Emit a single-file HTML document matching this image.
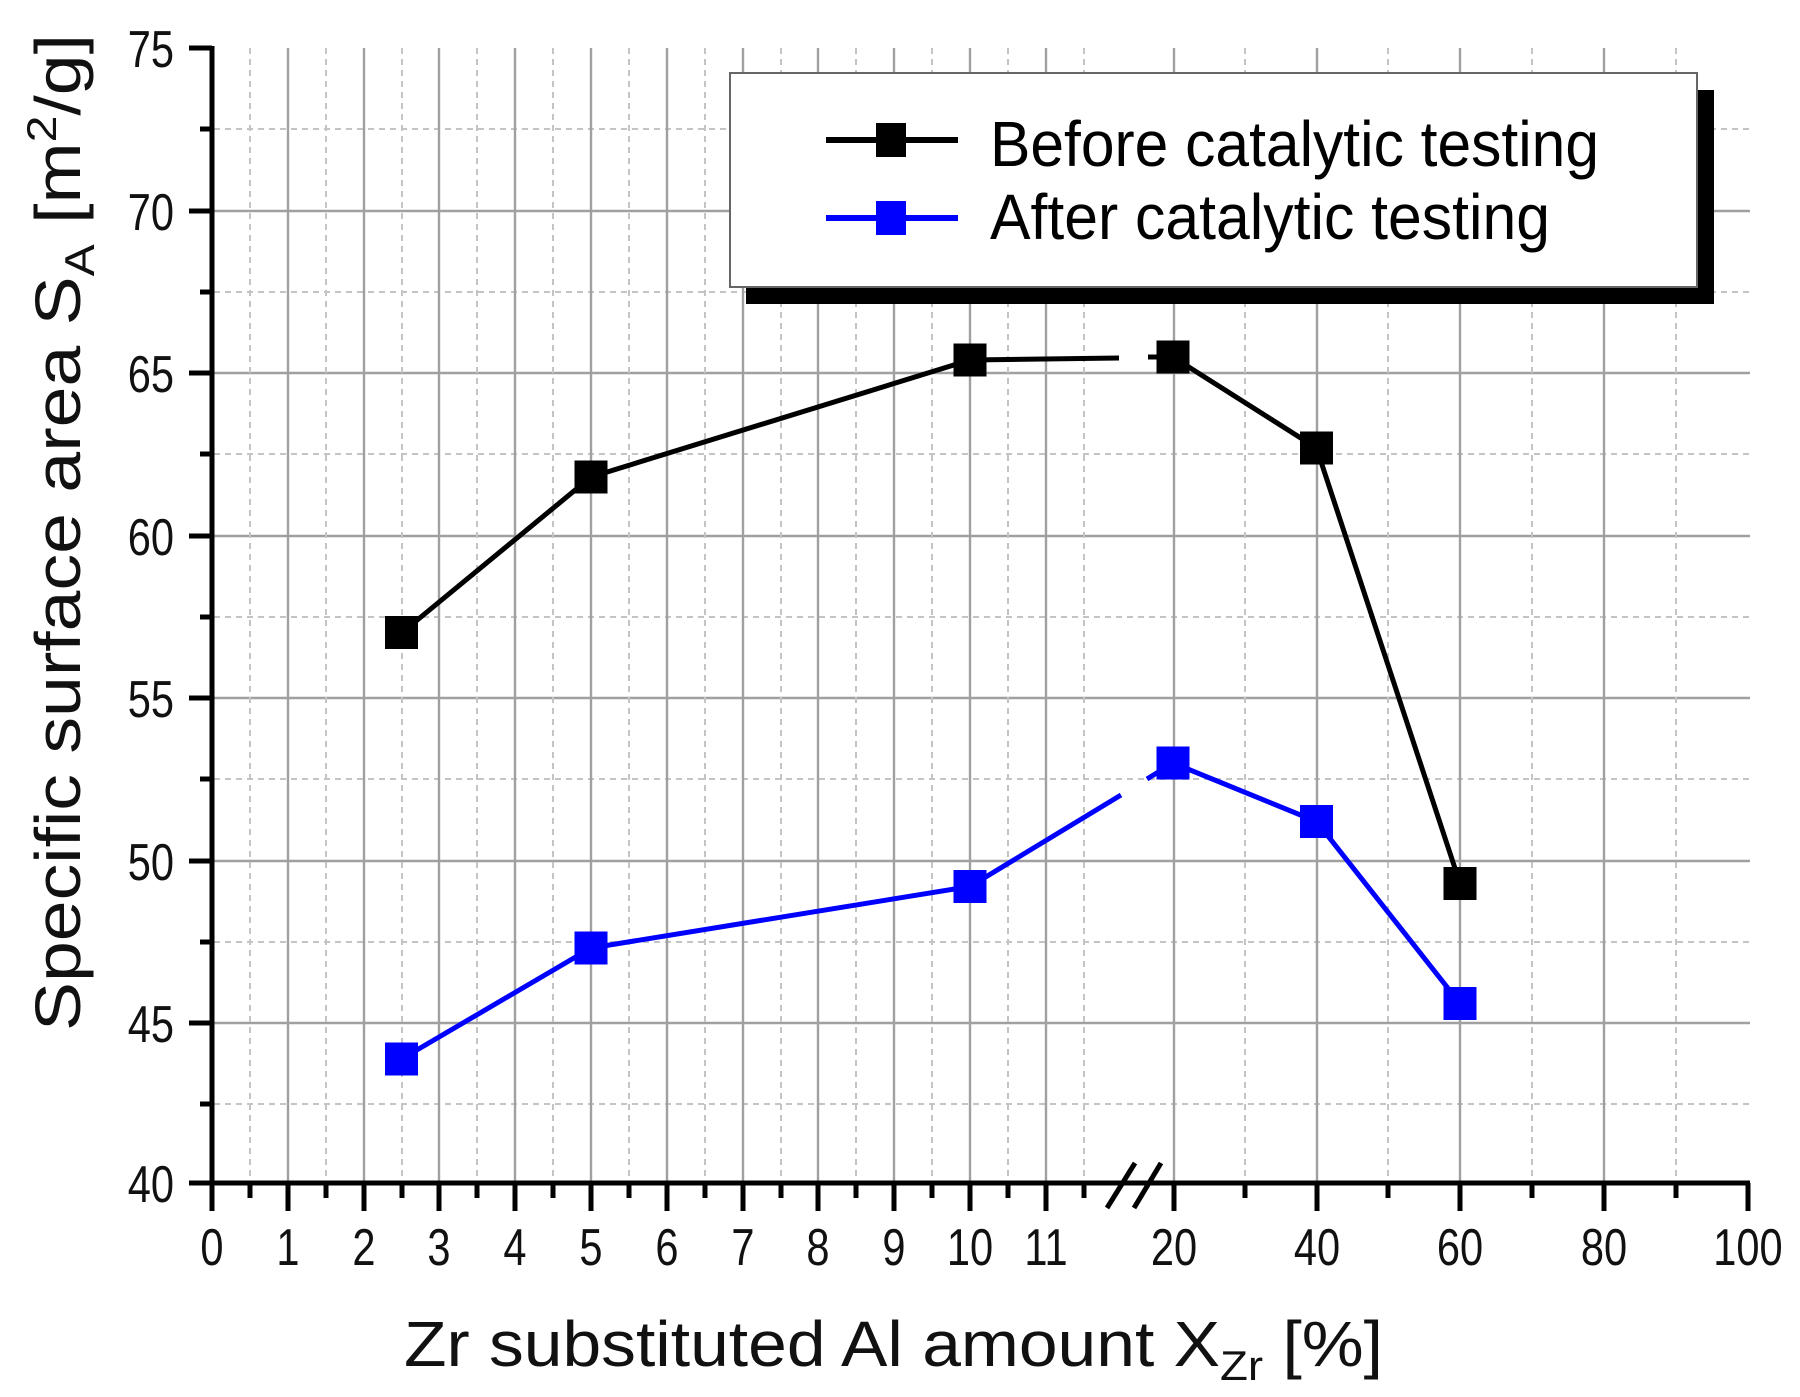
<!DOCTYPE html>
<html><head><meta charset="utf-8"><style>html,body{margin:0;padding:0;background:#fff}svg{display:block}</style></head>
<body>
<svg width="1800" height="1397" viewBox="0 0 1800 1397" xmlns="http://www.w3.org/2000/svg" font-family="Liberation Sans, Arial, sans-serif">
<g id="grid">
<g stroke="#c4c4c4" stroke-width="2" stroke-dasharray="6,5">
<line x1="214" y1="129" x2="1750" y2="129"/><line x1="214" y1="292" x2="1750" y2="292"/><line x1="214" y1="454" x2="1750" y2="454"/><line x1="214" y1="617" x2="1750" y2="617"/><line x1="214" y1="779" x2="1750" y2="779"/><line x1="214" y1="942" x2="1750" y2="942"/><line x1="214" y1="1104" x2="1750" y2="1104"/>
</g>
<g stroke="#a0a0a0" stroke-width="2.4">
<line x1="214" y1="211" x2="1750" y2="211"/><line x1="214" y1="373" x2="1750" y2="373"/><line x1="214" y1="536" x2="1750" y2="536"/><line x1="214" y1="698" x2="1750" y2="698"/><line x1="214" y1="861" x2="1750" y2="861"/><line x1="214" y1="1023" x2="1750" y2="1023"/>
</g>
<g stroke="#c4c4c4" stroke-width="2" stroke-dasharray="6,5">
<line x1="250" y1="48" x2="250" y2="1183"/><line x1="326" y1="48" x2="326" y2="1183"/><line x1="402" y1="48" x2="402" y2="1183"/><line x1="477" y1="48" x2="477" y2="1183"/><line x1="553" y1="48" x2="553" y2="1183"/><line x1="629" y1="48" x2="629" y2="1183"/><line x1="705" y1="48" x2="705" y2="1183"/><line x1="781" y1="48" x2="781" y2="1183"/><line x1="856" y1="48" x2="856" y2="1183"/><line x1="932" y1="48" x2="932" y2="1183"/><line x1="1008" y1="48" x2="1008" y2="1183"/><line x1="1084" y1="48" x2="1084" y2="1183"/>
<line x1="1245" y1="48" x2="1245" y2="1183"/><line x1="1388" y1="48" x2="1388" y2="1183"/><line x1="1532" y1="48" x2="1532" y2="1183"/><line x1="1676" y1="48" x2="1676" y2="1183"/>
</g>
<g stroke="#a0a0a0" stroke-width="2.4">
<line x1="288" y1="48" x2="288" y2="1183"/><line x1="364" y1="48" x2="364" y2="1183"/><line x1="439" y1="48" x2="439" y2="1183"/><line x1="515" y1="48" x2="515" y2="1183"/><line x1="591" y1="48" x2="591" y2="1183"/><line x1="667" y1="48" x2="667" y2="1183"/><line x1="743" y1="48" x2="743" y2="1183"/><line x1="818" y1="48" x2="818" y2="1183"/><line x1="894" y1="48" x2="894" y2="1183"/><line x1="970" y1="48" x2="970" y2="1183"/><line x1="1046" y1="48" x2="1046" y2="1183"/>
<line x1="1174" y1="48" x2="1174" y2="1183"/><line x1="1317" y1="48" x2="1317" y2="1183"/><line x1="1460" y1="48" x2="1460" y2="1183"/><line x1="1604" y1="48" x2="1604" y2="1183"/>
</g>
</g>
<g stroke="#000" stroke-width="5">
<line x1="212" y1="46" x2="212" y2="1185"/>
<line x1="210" y1="1183" x2="1750" y2="1183"/>
<line x1="189" y1="48" x2="212" y2="48"/><line x1="189" y1="211" x2="212" y2="211"/><line x1="189" y1="373" x2="212" y2="373"/><line x1="189" y1="536" x2="212" y2="536"/><line x1="189" y1="698" x2="212" y2="698"/><line x1="189" y1="861" x2="212" y2="861"/><line x1="189" y1="1023" x2="212" y2="1023"/><line x1="189" y1="1183" x2="212" y2="1183"/>
<line x1="200" y1="129" x2="212" y2="129"/><line x1="200" y1="292" x2="212" y2="292"/><line x1="200" y1="454" x2="212" y2="454"/><line x1="200" y1="617" x2="212" y2="617"/><line x1="200" y1="779" x2="212" y2="779"/><line x1="200" y1="942" x2="212" y2="942"/><line x1="200" y1="1104" x2="212" y2="1104"/>
<line x1="212" y1="1183" x2="212" y2="1211"/><line x1="288" y1="1183" x2="288" y2="1211"/><line x1="364" y1="1183" x2="364" y2="1211"/><line x1="439" y1="1183" x2="439" y2="1211"/><line x1="515" y1="1183" x2="515" y2="1211"/><line x1="591" y1="1183" x2="591" y2="1211"/><line x1="667" y1="1183" x2="667" y2="1211"/><line x1="743" y1="1183" x2="743" y2="1211"/><line x1="818" y1="1183" x2="818" y2="1211"/><line x1="894" y1="1183" x2="894" y2="1211"/><line x1="970" y1="1183" x2="970" y2="1211"/><line x1="1046" y1="1183" x2="1046" y2="1211"/>
<line x1="1174" y1="1183" x2="1174" y2="1211"/><line x1="1317" y1="1183" x2="1317" y2="1211"/><line x1="1460" y1="1183" x2="1460" y2="1211"/><line x1="1604" y1="1183" x2="1604" y2="1211"/><line x1="1748" y1="1183" x2="1748" y2="1211"/>
<line x1="250" y1="1183" x2="250" y2="1198"/><line x1="326" y1="1183" x2="326" y2="1198"/><line x1="402" y1="1183" x2="402" y2="1198"/><line x1="477" y1="1183" x2="477" y2="1198"/><line x1="553" y1="1183" x2="553" y2="1198"/><line x1="629" y1="1183" x2="629" y2="1198"/><line x1="705" y1="1183" x2="705" y2="1198"/><line x1="781" y1="1183" x2="781" y2="1198"/><line x1="856" y1="1183" x2="856" y2="1198"/><line x1="932" y1="1183" x2="932" y2="1198"/><line x1="1008" y1="1183" x2="1008" y2="1198"/><line x1="1084" y1="1183" x2="1084" y2="1198"/>
<line x1="1245" y1="1183" x2="1245" y2="1198"/><line x1="1388" y1="1183" x2="1388" y2="1198"/><line x1="1532" y1="1183" x2="1532" y2="1198"/><line x1="1676" y1="1183" x2="1676" y2="1198"/>
<line x1="1107" y1="1208" x2="1135" y2="1163"/><line x1="1134" y1="1208" x2="1161" y2="1163"/>
</g>
<g transform="scale(0.8,1)" font-size="52" fill="#111">
<g text-anchor="end">
<text x="217.5" y="67">75</text><text x="217.5" y="230">70</text><text x="217.5" y="392">65</text><text x="217.5" y="555">60</text><text x="217.5" y="717">55</text><text x="217.5" y="880">50</text><text x="217.5" y="1042">45</text><text x="217.5" y="1202">40</text>
</g>
<g text-anchor="middle">
<text x="265" y="1265">0</text><text x="360" y="1265">1</text><text x="455" y="1265">2</text><text x="548.75" y="1265">3</text><text x="643.75" y="1265">4</text><text x="738.75" y="1265">5</text><text x="833.75" y="1265">6</text><text x="928.75" y="1265">7</text><text x="1022.5" y="1265">8</text><text x="1117.5" y="1265">9</text><text x="1212.5" y="1265">10</text><text x="1307.5" y="1265">11</text>
<text x="1467.5" y="1265">20</text><text x="1646.25" y="1265">40</text><text x="1825" y="1265">60</text><text x="2005" y="1265">80</text><text x="2185" y="1265">100</text>
</g>
</g>
<text x="404" y="1366" font-size="64" fill="#111" textLength="979" lengthAdjust="spacingAndGlyphs">Zr substituted Al amount X<tspan font-size="42" dy="14">Zr</tspan><tspan dy="-14"> [%]</tspan></text>
<text transform="translate(80,1031) rotate(-90)" font-size="64" fill="#111" textLength="997" lengthAdjust="spacingAndGlyphs">Specific surface area  S<tspan font-size="42" dy="14">A</tspan><tspan dy="-14"> [m</tspan><tspan font-size="42" dy="-24">2</tspan><tspan dy="24">/g]</tspan></text>
<g stroke="#000" stroke-width="5" fill="none">
<polyline points="401.5,633 591,477 970,360 1119,358"/>
<polyline points="1148,357 1173,357 1316.5,448 1460,883.5"/>
</g>
<g fill="#000">
<rect x="385" y="616" width="33" height="33"/><rect x="574.5" y="460.5" width="33" height="33"/><rect x="953.5" y="343.5" width="33" height="33"/><rect x="1156.5" y="340.5" width="33" height="33"/><rect x="1300" y="431.5" width="33" height="33"/><rect x="1443.5" y="867" width="33" height="33"/>
</g>
<g stroke="#0000ff" stroke-width="5" fill="none">
<polyline points="401.5,1059 591,948 970,886.5 1121,795"/>
<polyline points="1147,779 1173,763 1316.5,821.5 1460,1003.5"/>
</g>
<g fill="#0000ff">
<rect x="385" y="1042.5" width="33" height="33"/><rect x="574.5" y="931.5" width="33" height="33"/><rect x="953.5" y="870" width="33" height="33"/><rect x="1156.5" y="746.5" width="33" height="33"/><rect x="1300" y="805" width="33" height="33"/><rect x="1443.5" y="987" width="33" height="33"/>
</g>
<rect x="746" y="90" width="968" height="214" fill="#000"/>
<rect x="730" y="73" width="967" height="214" fill="#fff" stroke="#666" stroke-width="2"/>
<line x1="826" y1="140" x2="958" y2="140" stroke="#000" stroke-width="6"/>
<rect x="876" y="123" width="30" height="34" fill="#000"/>
<line x1="826" y1="218" x2="958" y2="218" stroke="#0000ff" stroke-width="6"/>
<rect x="876" y="201" width="30" height="34" fill="#0000ff"/>
<text x="990" y="166" font-size="64" fill="#000" textLength="609" lengthAdjust="spacingAndGlyphs">Before catalytic testing</text>
<text x="990" y="239" font-size="64" fill="#000" textLength="560" lengthAdjust="spacingAndGlyphs">After catalytic testing</text>
</svg>
</body></html>
